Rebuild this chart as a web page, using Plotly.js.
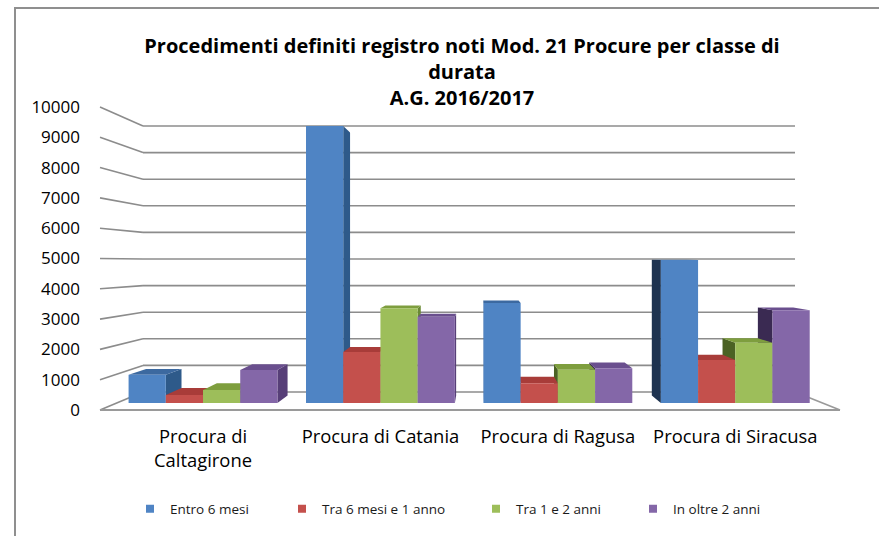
<!DOCTYPE html>
<html><head><meta charset="utf-8">
<script src="https://cdn.plot.ly/plotly-3.0.1.min.js"></script>
<style>html,body{margin:0;padding:0;background:#fff}#chart{width:879px;height:536px}</style>
</head><body><div id="chart"></div>
<script>
// ---------------- data ----------------
const categories = ['Procura di<br>Caltagirone', 'Procura di Catania', 'Procura di Ragusa', 'Procura di Siracusa'];
const seriesNames = ['Entro 6 mesi', 'Tra 6 mesi e 1 anno', 'Tra 1 e 2 anni', 'In oltre 2 anni'];
const entro6mesi   = [970, 9550, 3450, 4930];
const tra6mesi1anno = [280, 1760, 680, 1480];
const tra1e2anni   = [450, 3270, 1150, 2080];
const oltre2anni   = [1140, 2970, 1200, 3200];
const tickValues = [0, 1000, 2000, 3000, 4000, 5000, 6000, 7000, 8000, 9000, 10000];
const tickLabels = ['0', '1000', '2000', '3000', '4000', '5000', '6000', '7000', '8000', '9000', '10000'];
const titleText = 'Procedimenti definiti registro noti Mod. 21 Procure per classe di<br>durata<br>A.G. 2016/2017';

// ---------------- style ----------------
const frontColors = ['#4F84C4', '#C4504C', '#9DBE5A', '#8467A8'];
const rightColors = ['#2E5A8A', '#8E2F2C', '#6A8A34', '#573F78'];
const leftColors  = ['#1E3350', '#5E1F1D', '#4B6224', '#3A2A52'];
const topColors   = ['#3C69A0', '#A83C39', '#7E9E3E', '#6A4F8E'];
const FONT = 'Open Sans, Noto Sans, sans-serif';
const W = 879, H = 536;

// geometry (pixels)
const barX = [114.3, 824];      // x domain of bar front plane
const barY = [403, 113];        // y=0 and y=max of bar front plane
const labelY = [410, 107];      // value axis labels (front edge)
const wallY = [392, 126];       // back wall grid
const wallX = [143, 795];
const leftX = 100, floorRight = 840;
const yMax = 10000;
const bargap = 0.161;
const persp = {f: 0.05, vx: 480, vy: 255};
const fx = p => p / W, fy = p => 1 - p / H;

const series = [entro6mesi, tra6mesi1anno, tra1e2anni, oltre2anni];

// ---------------- traces ----------------
const traces = series.map((vals, j) => ({
  type: 'bar', x: categories, y: vals, name: seriesNames[j],
  marker: {color: frontColors[j], line: {width: 0}},
  showlegend: false, hoverinfo: 'skip'
}));
// legend entries (small squares)
series.forEach((vals, j) => {
  traces.push({
    type: 'scatter', mode: 'markers', x: [null], y: [null], name: seriesNames[j],
    marker: {symbol: 'square', size: 8, color: frontColors[j]},
    legend: j === 0 ? 'legend' : 'legend' + (j + 1), hoverinfo: 'skip'
  });
});
// carrier for the value-label axis
traces.push({type: 'scatter', x: [], y: [], xaxis: 'x', yaxis: 'y2', showlegend: false, hoverinfo: 'skip'});

// ---------------- shapes ----------------
const shapes = [];
const gridCol = '#8c8c8c';
const lin = (a, b, t) => a + (b - a) * t;
tickValues.forEach(v => {
  const t = v / yMax;
  const by = lin(wallY[0], wallY[1], t), fyy = lin(labelY[0], labelY[1], t);
  shapes.push({type: 'line', xref: 'paper', yref: 'paper', layer: 'below',
    x0: fx(wallX[0]), x1: fx(wallX[1]), y0: fy(by), y1: fy(by), line: {color: gridCol, width: 1.6}});
  shapes.push({type: 'line', xref: 'paper', yref: 'paper', layer: 'below',
    x0: fx(leftX), x1: fx(wallX[0]), y0: fy(fyy), y1: fy(by), line: {color: gridCol, width: 1.6}});
});
// floor
shapes.push({type: 'line', xref: 'paper', yref: 'paper', layer: 'below',
  x0: fx(leftX), x1: fx(floorRight), y0: fy(labelY[0]), y1: fy(labelY[0]), line: {color: '#9a9a9a', width: 1.8}});
shapes.push({type: 'line', xref: 'paper', yref: 'paper', layer: 'below',
  x0: fx(wallX[1]), x1: fx(floorRight), y0: fy(wallY[0]), y1: fy(labelY[0]), line: {color: '#9a9a9a', width: 1.8}});
// chart border
shapes.push({type: 'rect', xref: 'paper', yref: 'paper', layer: 'below',
  x0: fx(15), x1: 1.05, y0: -0.05, y1: fy(8), line: {color: '#8f8f8f', width: 2}});

// 3D faces of bars, derived from the values
const catW = (barX[1] - barX[0]) / categories.length;
const dx2px = x => barX[0] + (x + 0.5) * catW;
const px2dx = X => (X - barX[0]) / catW - 0.5;
const dy2px = v => barY[0] + (barY[1] - barY[0]) * v / yMax;
const px2dy = Y => (Y - barY[0]) / (barY[1] - barY[0]) * yMax;
const back = (x, v) => {
  const X = dx2px(x), Y = dy2px(v);
  return [px2dx(X + (persp.vx - X) * persp.f), px2dy(Y + (persp.vy - Y) * persp.f)];
};
const path = pts => 'M' + pts.map(p => p[0].toFixed(4) + ',' + p[1].toFixed(2)).join('L') + 'Z';
const bw = (1 - bargap) / series.length;
const sideShapes = [], topShapes = [];
series.forEach((vals, j) => {
  vals.forEach((v, i) => {
    const xl = i - (1 - bargap) / 2 + j * bw, xr = xl + bw;
    let edge = null, col = null;
    if (dx2px(xr) < persp.vx) { edge = xr; col = rightColors[j]; }
    else if (dx2px(xl) > persp.vx) { edge = xl; col = leftColors[j]; }
    if (edge !== null) {
      sideShapes.push({type: 'path', xref: 'x', yref: 'y', layer: 'below', line: {width: 0}, fillcolor: col,
        path: path([[edge, 0], [edge, v], back(edge, v), back(edge, 0)])});
    }
    if (dy2px(v) > persp.vy) {
      topShapes.push({type: 'path', xref: 'x', yref: 'y', layer: 'below', line: {width: 0}, fillcolor: topColors[j],
        path: path([[xl, v], [xr, v], back(xr, v), back(xl, v)])});
    }
  });
});
shapes.push(...sideShapes, ...topShapes);

// ---------------- layout ----------------
const legendBase = {orientation: 'h', xanchor: 'left', yanchor: 'middle', y: fy(509),
  font: {family: FONT, size: 13.5, color: '#1a1a1a'}, bgcolor: 'rgba(0,0,0,0)', itemclick: false, itemdoubleclick: false};
const legendTextStart = [170, 322, 516, 673];
const layout = {
  width: W, height: H, margin: {l: 0, r: 0, t: 0, b: 0, pad: 0},
  paper_bgcolor: '#ffffff', plot_bgcolor: 'rgba(0,0,0,0)',
  barmode: 'group', bargap: bargap, bargroupgap: 0,
  title: {text: titleText, x: fx(462), xanchor: 'center', xref: 'paper', y: fy(53), yanchor: 'top', yref: 'container',
    font: {family: FONT, size: 20, weight: 700, color: '#000'}},
  xaxis: {domain: [fx(barX[0]), fx(barX[1])], type: 'category', range: [-0.5, 3.5], showgrid: false, zeroline: false,
    showline: false, ticks: '', ticklabelstandoff: 21, tickfont: {family: FONT, size: 18.4, color: '#000'}, fixedrange: true},
  yaxis: {domain: [fy(barY[0]), fy(barY[1])], range: [0, yMax], visible: false, fixedrange: true},
  yaxis2: {domain: [fy(labelY[0]), fy(labelY[1])], range: [0, yMax], anchor: 'free', position: fx(80), side: 'left',
    tickmode: 'array', tickvals: tickValues, ticktext: tickLabels, ticks: '', showgrid: false, zeroline: false, showline: false,
    tickfont: {family: FONT, size: 17, color: '#000'}, fixedrange: true},
  shapes: shapes,
  showlegend: true,
  legend:  Object.assign({}, legendBase, {x: fx(legendTextStart[0] - 40)}),
  legend2: Object.assign({}, legendBase, {x: fx(legendTextStart[1] - 40)}),
  legend3: Object.assign({}, legendBase, {x: fx(legendTextStart[2] - 40)}),
  legend4: Object.assign({}, legendBase, {x: fx(legendTextStart[3] - 40)})
};
Plotly.newPlot('chart', traces, layout, {displayModeBar: false, staticPlot: true});
</script></body></html>
